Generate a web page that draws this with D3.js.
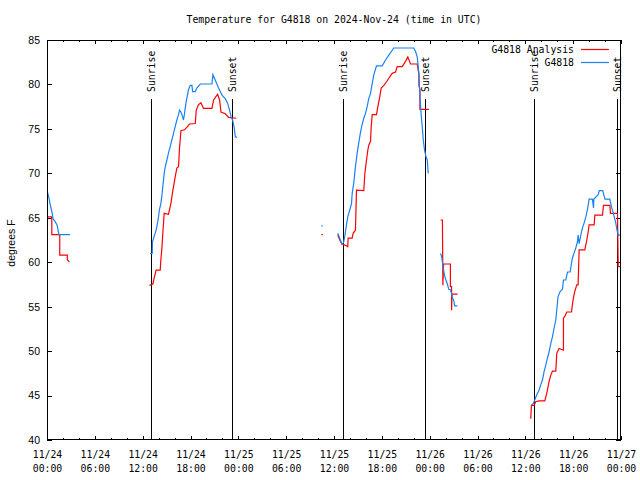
<!DOCTYPE html>
<html>
<head>
<meta charset="utf-8">
<script src="https://cdn.jsdelivr.net/npm/d3@7"></script>
<style>
  html, body { margin: 0; padding: 0; background: #fff; }
  svg { display: block; }
</style>
</head>
<body>
<svg id="chart" width="640" height="480"></svg>
<script>
// ---------------- data ----------------
const chartTitle = "Temperature for G4818 on 2024-Nov-24 (time in UTC)";
const yLabel = "degrees F";
const seriesNames = ["G4818 Analysis", "G4818"];

// hours since 2024-11-24 00:00 UTC ; null = gap
const analysisHours = [
  0, 0.6, 0.6, 1.6, 1.6, 2.55, 2.55, 2.8, null,
  12.85, 13.28, 13.44, 13.69, 14.2, 14.28, 14.4, 14.53, 14.7, 15.24, 15.36, 15.54, 15.7, 15.87, 16.08, 16.29, 16.5, 16.62, 16.8, 17.25, 17.55, 17.88, 18.6, 18.72, 19.0, 19.3, 19.64, 20.69, 20.9, 21.4, 21.65, 21.82, 22.36, 22.78, 23.74, null,
  34.42, 34.6, null,
  36.47, 36.72, 37.0, 37.43, 37.73, 37.77, 38.28, 38.4, 38.69, 38.82, 39.74, 39.87, 40.08, 40.24, 40.37, 40.58, 40.66, 40.79, 41.33, 41.5, 41.74, 41.92, 42.25, 42.59, 42.88, 43.3, 43.72, 43.93, 44.56, 44.97, 45.26, 45.6, 46.44, 46.65, 46.65, 46.78, 46.78, 47.9, null,
  49.37, 49.6, 49.66, 49.75, 50.6, 50.6, 50.75, 50.75, 50.8, 51.5, null,
  60.68, 60.76, 61.1, 61.3, 61.72, 62.44, 62.69, 62.98, 63.2, 63.4, 63.82, 63.94, 64.23, 64.78, 64.78, 64.95, 65.2, 65.79, 65.9, 66.03, 66.2, 66.45, 66.62, 66.75, 67.46, 67.71, 67.88, 68.0, 68.63, 68.72, 69.68, 69.8, 70.6, 70.68, 71.56, 71.65, 71.95
];
const analysisTemps = [
  65.1, 65.1, 63.1, 63.1, 60.8, 60.8, 60.3, 60.0, null,
  57.4, 57.55, 58.2, 59.1, 59.1, 60.25, 61.4, 63.25, 65.5, 65.4, 65.9, 66.6, 67.6, 68.5, 69.6, 70.6, 70.75, 72.8, 74.8, 74.9, 75.2, 75.55, 75.6, 77.1, 77.7, 77.95, 77.3, 77.3, 78.25, 78.9, 78.25, 76.9, 76.7, 76.3, 76.2, null,
  63.1, 63.1, null,
  63.1, 62.5, 62.05, 61.9, 61.75, 62.7, 62.7, 63.25, 63.6, 68.1, 68.05, 70.0, 71.5, 72.6, 73.2, 73.6, 75.1, 76.6, 76.6, 77.5, 78.6, 79.6, 79.9, 80.3, 80.7, 81.25, 81.4, 82.0, 82.0, 82.6, 83.1, 82.3, 82.3, 81.1, 79.9, 79.4, 77.2, 77.2, null,
  64.75, 64.75, 57.4, 59.8, 59.8, 57.25, 57.25, 54.6, 56.4, 56.4, null,
  42.4, 43.9, 43.9, 44.3, 44.4, 44.4, 45.25, 46.6, 47.3, 47.75, 47.75, 49.75, 50.3, 50.1, 53.7, 53.9, 54.4, 54.4, 55.2, 55.95, 56.7, 57.45, 57.45, 61.4, 61.4, 62.5, 63.4, 64.2, 64.2, 65.3, 65.3, 66.4, 66.4, 65.5, 65.5, 59.5, 59.5
];

const stationHours = [
  0, 0.25, 0.38, 0.5, 0.63, 0.75, 1.0, 1.26, 1.5, 2.9, null,
  12.94, 13.2, 13.23, 13.44, 13.69, 13.86, 13.99, 14.1, 14.28, 14.4, 14.53, 14.7, 14.82, 15.04, 15.24, 15.45, 15.66, 15.87, 16.08, 16.29, 16.5, 16.62, 16.8, 16.92, 17.12, 17.25, 17.46, 17.75, 17.96, 18.18, 18.26, 18.6, 18.8, 19.22, 20.69, 20.81, 21.1, 21.52, 21.95, 22.36, 22.65, 22.9, 23.08, 23.28, 23.49, 23.62, 23.83, null,
  34.42, 34.6, null,
  36.47, 36.8, 37.0, 37.2, 37.35, 37.56, 37.73, 37.98, 38.2, 38.28, 38.48, 38.69, 38.9, 39.1, 39.3, 39.5, 39.74, 39.95, 40.16, 40.36, 40.58, 40.79, 41.0, 41.33, 42.05, 42.46, 42.88, 43.5, 46.0, 46.23, 46.44, 46.65, 46.78, 46.95, 47.07, 47.2, 47.36, 47.53, 47.7, 47.82, null,
  49.37, 49.5, 49.62, 49.79, 49.9, 50.04, 50.2, 50.4, 50.6, 50.75, 50.84, 51.05, 51.13, 51.47, null,
  60.76, 61.0, 61.18, 61.43, 61.72, 61.93, 62.15, 62.35, 62.56, 62.77, 62.98, 63.2, 63.4, 63.61, 63.82, 63.94, 64.1, 64.36, 64.65, 64.78, 65.07, 65.29, 65.62, 65.79, 65.9, 66.1, 66.33, 66.54, 66.62, 66.75, 66.96, 67.17, 67.37, 67.59, 67.8, 68.0, 68.42, 68.55, 68.6, 69.14, 69.27, 69.7, 69.99, 70.6, 70.8, 71.1, 71.35, 71.5, 71.65, 72.0
];
const stationTemps = [
  68.1, 67.2, 66.6, 66.1, 65.6, 64.9, 64.6, 64.2, 63.1, 63.1, null,
  61.0, 61.0, 62.3, 62.9, 63.6, 64.4, 65.1, 65.9, 66.6, 67.4, 68.5, 70.0, 70.7, 71.5, 72.3, 73.0, 73.75, 74.5, 75.25, 76.0, 76.6, 77.1, 76.9, 76.6, 76.0, 76.75, 78.1, 79.4, 79.9, 79.9, 79.2, 79.2, 79.6, 80.05, 80.05, 81.1, 80.5, 79.6, 78.8, 78.4, 77.9, 77.1, 76.4, 76.0, 75.1, 74.1, 74.05, null,
  64.1, 64.1, null,
  63.25, 62.5, 62.05, 62.2, 62.9, 64.2, 65.1, 65.9, 66.6, 67.75, 68.9, 70.75, 72.25, 73.4, 74.5, 75.4, 76.2, 76.75, 77.5, 78.4, 79.0, 80.1, 81.1, 82.1, 82.1, 82.75, 83.3, 84.1, 84.1, 83.7, 83.1, 81.25, 78.6, 76.4, 75.25, 73.75, 72.6, 71.9, 71.5, 70.0, null,
  61.0, 60.6, 59.9, 58.9, 58.4, 58.0, 57.6, 56.95, 56.9, 56.5, 56.05, 55.6, 55.1, 55.1, null,
  43.9, 44.1, 44.5, 45.1, 45.6, 46.2, 46.75, 47.7, 48.4, 49.2, 49.9, 50.9, 51.6, 52.6, 53.5, 54.6, 56.1, 56.7, 56.95, 58.0, 58.0, 58.9, 58.9, 59.9, 60.45, 61.0, 61.6, 62.3, 63.05, 62.1, 63.05, 63.9, 64.4, 65.1, 65.95, 67.1, 67.1, 66.1, 67.1, 67.6, 68.05, 68.05, 67.1, 67.1, 66.25, 65.3, 64.4, 63.6, 63.05, 63.05
];

const sunriseHours = [13.1, 37.12, 61.1];
const sunsetHours = [23.25, 47.4, 71.5];

const xTickHours = [0, 6, 12, 18, 24, 30, 36, 42, 48, 54, 60, 66, 72];
const xTickDates = ["11/24", "11/24", "11/24", "11/24", "11/25", "11/25", "11/25", "11/25", "11/26", "11/26", "11/26", "11/26", "11/27"];
const xTickTimes = ["00:00", "06:00", "12:00", "18:00", "00:00", "06:00", "12:00", "18:00", "00:00", "06:00", "12:00", "18:00", "00:00"];
const xMinorHours = d3.range(0, 73, 2).filter(h => h % 6 !== 0);
const yTicks = [40, 45, 50, 55, 60, 65, 70, 75, 80, 85];

// ---------------- layout ----------------
const L = 47, R = 621, T = 40, B = 440;
const mono = "'DejaVu Sans Mono', monospace";
const sans = "'Liberation Sans', Arial, sans-serif";
const redColor = "#ff0000";
const blueColor = "#1a82f0";

const svg = d3.select("#chart");
const x = d3.scaleLinear().domain([0, 72]).range([L, R]);
const y = d3.scaleLinear().domain([40, 85]).range([B, T]);

svg.append("defs").append("clipPath").attr("id", "clip")
  .append("rect").attr("x", L).attr("y", T).attr("width", R - L).attr("height", B - T);

// title
svg.append("text").attr("x", (L + R) / 2).attr("y", 23)
  .attr("text-anchor", "middle").attr("font-family", mono).attr("font-size", "9.8px")
  .text(chartTitle);

// y label
svg.append("text").attr("transform", "translate(15,243) rotate(-90)")
  .attr("text-anchor", "middle").attr("font-family", sans).attr("font-size", "10.5px")
  .text(yLabel);

// axes
function styleAxis(g) {
  g.select(".domain").remove();
  g.selectAll(".tick line").attr("stroke", "#000").attr("shape-rendering", "crispEdges");
}
const yLeft = svg.append("g").attr("transform", `translate(${L},0)`)
  .call(d3.axisLeft(y).tickValues(yTicks).tickSize(-5).tickPadding(7).tickFormat(d3.format("d")));
styleAxis(yLeft);
yLeft.selectAll("text").attr("font-family", sans).attr("font-size", "10.5px").attr("fill", "#000");

const yRight = svg.append("g").attr("transform", `translate(${R},0)`)
  .call(d3.axisRight(y).tickValues(yTicks).tickSize(-5).tickFormat(""));
styleAxis(yRight);

const xBottom = svg.append("g").attr("transform", `translate(0,${B})`)
  .call(d3.axisBottom(x).tickValues(xTickHours).tickSize(-4).tickPadding(0).tickFormat(""));
styleAxis(xBottom);
xBottom.selectAll(".tick").each(function(d, i) {
  const t = d3.select(this).append("text").attr("fill", "#000")
    .attr("font-family", mono).attr("font-size", "9.8px").attr("text-anchor", "middle");
  t.append("tspan").attr("x", 0).attr("y", 18).text(xTickDates[i]);
  t.append("tspan").attr("x", 0).attr("y", 32).text(xTickTimes[i]);
});
const xBottomMinor = svg.append("g").attr("transform", `translate(0,${B})`)
  .call(d3.axisBottom(x).tickValues(xMinorHours).tickSize(-2).tickFormat(""));
styleAxis(xBottomMinor);

const xTop = svg.append("g").attr("transform", `translate(0,${T})`)
  .call(d3.axisTop(x).tickValues(xTickHours).tickSize(-4).tickFormat(""));
styleAxis(xTop);
const xTopMinor = svg.append("g").attr("transform", `translate(0,${T})`)
  .call(d3.axisTop(x).tickValues(xMinorHours).tickSize(-2).tickFormat(""));
styleAxis(xTopMinor);

// sunrise / sunset markers
function marker(h, label) {
  const px = Math.round(x(h)) + 0.5;
  svg.append("line").attr("x1", px).attr("x2", px).attr("y1", 99).attr("y2", B)
    .attr("stroke", "#000").attr("stroke-width", 1);
  svg.append("text").attr("transform", `translate(${px},92) rotate(-90)`)
    .attr("dy", "0.35em").attr("text-anchor", "start")
    .attr("font-family", mono).attr("font-size", "9.8px").text(label);
}
sunriseHours.forEach(h => marker(h, "Sunrise"));
sunsetHours.forEach(h => marker(h, "Sunset"));

// series
const line = d3.line()
  .defined(d => d[0] !== null && d[1] !== null)
  .x(d => x(d[0])).y(d => y(d[1]));
const analysisData = analysisHours.map((h, i) => [h, analysisTemps[i]]);
const stationData = stationHours.map((h, i) => [h, stationTemps[i]]);

const plot = svg.append("g").attr("clip-path", "url(#clip)");
plot.append("path").datum(analysisData).attr("d", line)
  .attr("fill", "none").attr("stroke", redColor).attr("stroke-width", 1.2);
plot.append("path").datum(stationData).attr("d", line)
  .attr("fill", "none").attr("stroke", blueColor).attr("stroke-width", 1.2);

// border
svg.append("rect").attr("x", L + 0.5).attr("y", T + 0.5).attr("width", R - L - 1).attr("height", B - T - 1)
  .attr("fill", "none").attr("stroke", "#000").attr("stroke-width", 1);

// legend
const legend = [[seriesNames[0], redColor, 49], [seriesNames[1], blueColor, 62]];
legend.forEach(([name, col, ly]) => {
  svg.append("text").attr("x", 574).attr("y", ly + 4).attr("text-anchor", "end")
    .attr("font-family", mono).attr("font-size", "9.8px").text(name);
  svg.append("line").attr("x1", 581).attr("x2", 609).attr("y1", ly + 0.5).attr("y2", ly + 0.5)
    .attr("stroke", col).attr("stroke-width", 1.2);
});
</script>
</body>
</html>
